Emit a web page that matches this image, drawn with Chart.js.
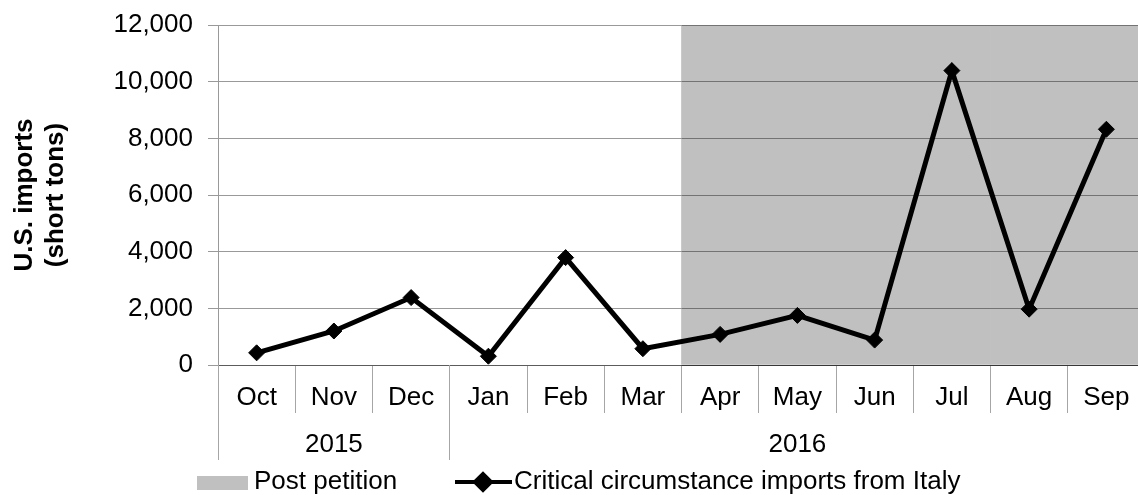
<!DOCTYPE html>
<html>
<head>
<meta charset="utf-8">
<script src="https://cdn.jsdelivr.net/npm/chart.js@4"></script>
<style>
  html, body { margin: 0; background: #fff; overflow: hidden; }
</style>
</head>
<body>
<!-- plot runs a few px past the right edge of the window, as in the original -->
<canvas id="importsChart" width="1145" height="495"></canvas>
<script>
// Chart data
const months = ['Oct', 'Nov', 'Dec', 'Jan', 'Feb', 'Mar', 'Apr', 'May', 'Jun', 'Jul', 'Aug', 'Sep'];
const years = ['2015', '2016'];
const yearSpans = [3, 9]; // number of months under each year
const italyImports = [430, 1200, 2380, 310, 3790, 575, 1080, 1750, 880, 10390, 1970, 8320];
const postPetition = [null, null, null, null, null, null, 12000, 12000, 12000, 12000, 12000, 12000];
const yTicks = [0, 2000, 4000, 6000, 8000, 10000, 12000];

const FONT = '"Liberation Sans", Arial, sans-serif';
const gridColor = 'rgba(0, 0, 0, 0.4)';
const sepColor = '#a6a6a6';
const shadeColor = '#c0c0c0';

// Gridlines show through the grey band (darker there), so redraw them over it
const gridOverShade = {
  id: 'gridOverShade',
  afterDatasetDraw(chart, args) {
    if (args.index !== 1) return;
    const { ctx, chartArea } = chart;
    const y = chart.scales.y;
    const bars = args.meta.data.filter((el, i) => postPetition[i] !== null);
    if (!bars.length) return;
    const left = Math.min(...bars.map(b => b.x - b.width / 2));
    ctx.save();
    ctx.strokeStyle = gridColor;
    ctx.lineWidth = 1;
    yTicks.forEach(v => {
      const py = Math.round(y.getPixelForValue(v) - 0.5) + 0.5;
      ctx.beginPath();
      ctx.moveTo(left, py);
      ctx.lineTo(chartArea.right, py);
      ctx.stroke();
    });
    ctx.restore();
  }
};

// Year row under the month labels (2-level category axis)
const yearGroups = {
  id: 'yearGroups',
  afterDraw(chart) {
    const { ctx, chartArea } = chart;
    const x = chart.scales.x;
    const w = (x.right - x.left) / months.length;
    let start = 0;
    ctx.save();
    ctx.strokeStyle = sepColor;
    ctx.lineWidth = 1;
    ctx.font = '26px ' + FONT;
    ctx.fillStyle = '#000';
    ctx.textAlign = 'center';
    ctx.textBaseline = 'middle';
    years.forEach((yr, i) => {
      const x0 = x.getPixelForValue(start) - w / 2;
      const x1 = x.getPixelForValue(start + yearSpans[i] - 1) + w / 2;
      const px = Math.round(x0 - 0.5) + 0.5;
      ctx.beginPath();
      ctx.moveTo(px, chartArea.bottom);
      ctx.lineTo(px, 460);
      ctx.stroke();
      ctx.fillText(yr, (x0 + x1) / 2, 445);
      start += yearSpans[i];
    });
    ctx.restore();
  }
};

// Legend drawn by hand so the line item keeps its line + diamond look
const bottomLegend = {
  id: 'bottomLegend',
  afterDraw(chart) {
    const { ctx } = chart;
    const [lineSet, barSet] = chart.data.datasets;
    const cy = 482;
    ctx.save();
    ctx.font = '26px ' + FONT;
    ctx.textBaseline = 'middle';
    ctx.textAlign = 'left';

    ctx.fillStyle = shadeColor;
    ctx.fillRect(197, 476, 51, 14);
    ctx.fillStyle = '#000';
    ctx.fillText(barSet.label, 254, cy);

    ctx.strokeStyle = '#000';
    ctx.lineWidth = 4;
    ctx.beginPath();
    ctx.moveTo(455, cy);
    ctx.lineTo(512, cy);
    ctx.stroke();
    Chart.helpers.drawPoint(ctx, { pointStyle: 'rectRot', radius: 8, borderWidth: 1 }, 483, cy);
    ctx.fill();
    ctx.fillText(lineSet.label, 514, cy);
    ctx.restore();
  }
};

const ctx = document.getElementById('importsChart').getContext('2d');
const importsChart = new Chart(ctx, {
  type: 'bar',
  data: {
    labels: months,
    datasets: [
      {
        type: 'line',
        label: 'Critical circumstance imports from Italy',
        data: italyImports,
        borderColor: '#000',
        borderWidth: 5,
        tension: 0,
        pointStyle: 'rectRot',
        pointRadius: 8,
        pointBackgroundColor: '#000',
        pointBorderColor: '#000',
        pointBorderWidth: 1,
        order: 0
      },
      {
        label: 'Post petition',
        data: postPetition,
        backgroundColor: shadeColor,
        borderWidth: 0,
        barPercentage: 1,
        categoryPercentage: 1,
        order: 1
      }
    ]
  },
  options: {
    responsive: false,
    animation: false,
    layout: { autoPadding: false, padding: { top: 25, right: 0, bottom: 0, left: 0 } },
    plugins: {
      legend: { display: false },
      tooltip: { enabled: false }
    },
    scales: {
      x: {
        offset: true,
        grid: { offset: true, drawOnChartArea: false, tickLength: 48, color: sepColor },
        border: { color: gridColor },
        ticks: { color: '#000', padding: -31, font: { family: FONT, size: 26 }, maxRotation: 0, autoSkip: false },
        afterFit: (scale) => {
          scale.height = 130;
          scale.paddingLeft = 0;
          scale.paddingRight = 0;
        }
      },
      y: {
        min: 0,
        max: 12000,
        afterBuildTicks: (scale) => { scale.ticks = yTicks.map(v => ({ value: v })); },
        ticks: {
          color: '#000',
          padding: 15,
          font: { family: FONT, size: 26 },
          callback: (v) => v.toLocaleString('en-US')
        },
        grid: { color: gridColor, tickLength: 10 },
        border: { color: gridColor },
        title: {
          display: true,
          text: ['U.S. imports', '(short tons)'],
          color: '#000',
          font: { family: FONT, size: 26, weight: 'bold' },
          padding: { top: 9, bottom: 0 }
        },
        afterFit: (scale) => {
          scale.width = 218;
          scale.paddingTop = 0;
          scale.paddingBottom = 0;
        }
      }
    }
  },
  plugins: [gridOverShade, yearGroups, bottomLegend]
});
</script>
</body>
</html>
